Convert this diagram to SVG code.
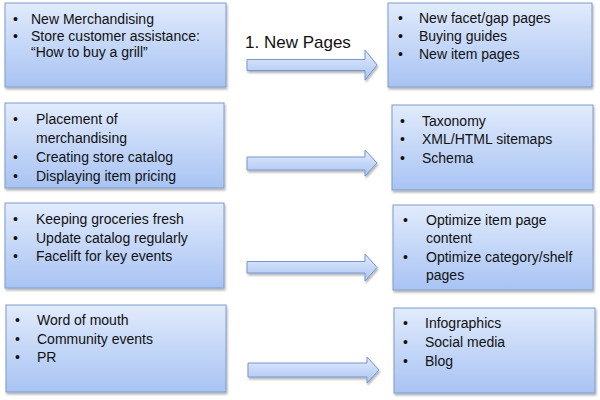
<svg xmlns="http://www.w3.org/2000/svg" width="600" height="400" viewBox="0 0 600 400">
<style>
.box{fill:url(#bg);stroke:#7f9ccb;stroke-width:1;filter:url(#sh)}
.arr{fill:url(#ag);stroke:#7797cc;stroke-width:1;filter:url(#sh)}
text{font-family:"Liberation Sans",Arial,sans-serif;font-size:14px;fill:#111}
.lbl{font-size:17px}
</style>
<defs>
<linearGradient id="bg" x1="0" y1="0" x2="0" y2="1">
<stop offset="0" stop-color="#e1ebfc"/>
<stop offset="1" stop-color="#a8c3f3"/>
</linearGradient>
<linearGradient id="ag" x1="0" y1="0" x2="0" y2="1">
<stop offset="0" stop-color="#e3ecfc"/>
<stop offset="1" stop-color="#a9c4f4"/>
</linearGradient>
<filter id="sh" x="-5%" y="-10%" width="115%" height="130%">
<feDropShadow dx="1" dy="2" stdDeviation="1" flood-color="#000" flood-opacity="0.3"/>
</filter>
</defs>
<rect width="600" height="400" fill="#fff"/>

<g id="connectors">
<path class="arr" d="M247,59.5 H365 V50 L377,65 L365,80 V70.5 H247 Z"/>
<path class="arr" d="M247,157 H365 V150 L377,163 L365,176 V170 H247 Z"/>
<path class="arr" d="M247,261.5 H365 V254 L377,267.5 L365,281 V273 H247 Z"/>
<path class="arr" d="M248,363 H367 V357 L379,370 L367,383 V377 H248 Z"/>
<text class="lbl" x="245" y="48">1. New Pages</text>
</g>

<g id="n1">
<rect class="box" x="5" y="3" width="221" height="84"/>
<text x="13" y="24">•</text><text x="31" y="24">New Merchandising</text>
<text x="13" y="41">•</text><text x="31" y="41">Store customer assistance:</text>
<text x="31" y="57">“How to buy a grill”</text>
</g>
<g id="n2">
<rect class="box" x="388" y="3" width="204" height="84"/>
<text x="398" y="23">•</text><text x="419" y="23">New facet/gap pages</text>
<text x="398" y="41">•</text><text x="419" y="41">Buying guides</text>
<text x="398" y="59">•</text><text x="419" y="59">New item pages</text>
</g>

<g id="n3">
<rect class="box" x="5" y="103" width="219" height="85"/>
<text x="13" y="124">•</text><text x="36" y="124">Placement of</text>
<text x="36" y="143">merchandising</text>
<text x="13" y="162">•</text><text x="36" y="162">Creating store catalog</text>
<text x="13" y="181">•</text><text x="36" y="181">Displaying item pricing</text>
</g>
<g id="n4">
<rect class="box" x="392" y="105" width="201" height="85"/>
<text x="400" y="126">•</text><text x="422" y="126">Taxonomy</text>
<text x="400" y="144">•</text><text x="422" y="144">XML/HTML sitemaps</text>
<text x="400" y="163">•</text><text x="422" y="163">Schema</text>
</g>

<g id="n5">
<rect class="box" x="5" y="203" width="219" height="85"/>
<text x="13" y="224">•</text><text x="36" y="224">Keeping groceries fresh</text>
<text x="13" y="243">•</text><text x="36" y="243">Update catalog regularly</text>
<text x="13" y="261">•</text><text x="36" y="261">Facelift for key events</text>
</g>
<g id="n6">
<rect class="box" x="393" y="205" width="200" height="85"/>
<text x="403" y="225">•</text><text x="426" y="225">Optimize item page</text>
<text x="426" y="243">content</text>
<text x="403" y="262">•</text><text x="426" y="262">Optimize category/shelf</text>
<text x="426" y="280">pages</text>
</g>

<g id="n7">
<rect class="box" x="6" y="305" width="220" height="87"/>
<text x="15" y="325">•</text><text x="37" y="325">Word of mouth</text>
<text x="15" y="344">•</text><text x="37" y="344">Community events</text>
<text x="15" y="362">•</text><text x="37" y="362">PR</text>
</g>
<g id="n8">
<rect class="box" x="394" y="308" width="201" height="85"/>
<text x="403" y="328">•</text><text x="425" y="328">Infographics</text>
<text x="403" y="347">•</text><text x="425" y="347">Social media</text>
<text x="403" y="366">•</text><text x="425" y="366">Blog</text>
</g>
</svg>
